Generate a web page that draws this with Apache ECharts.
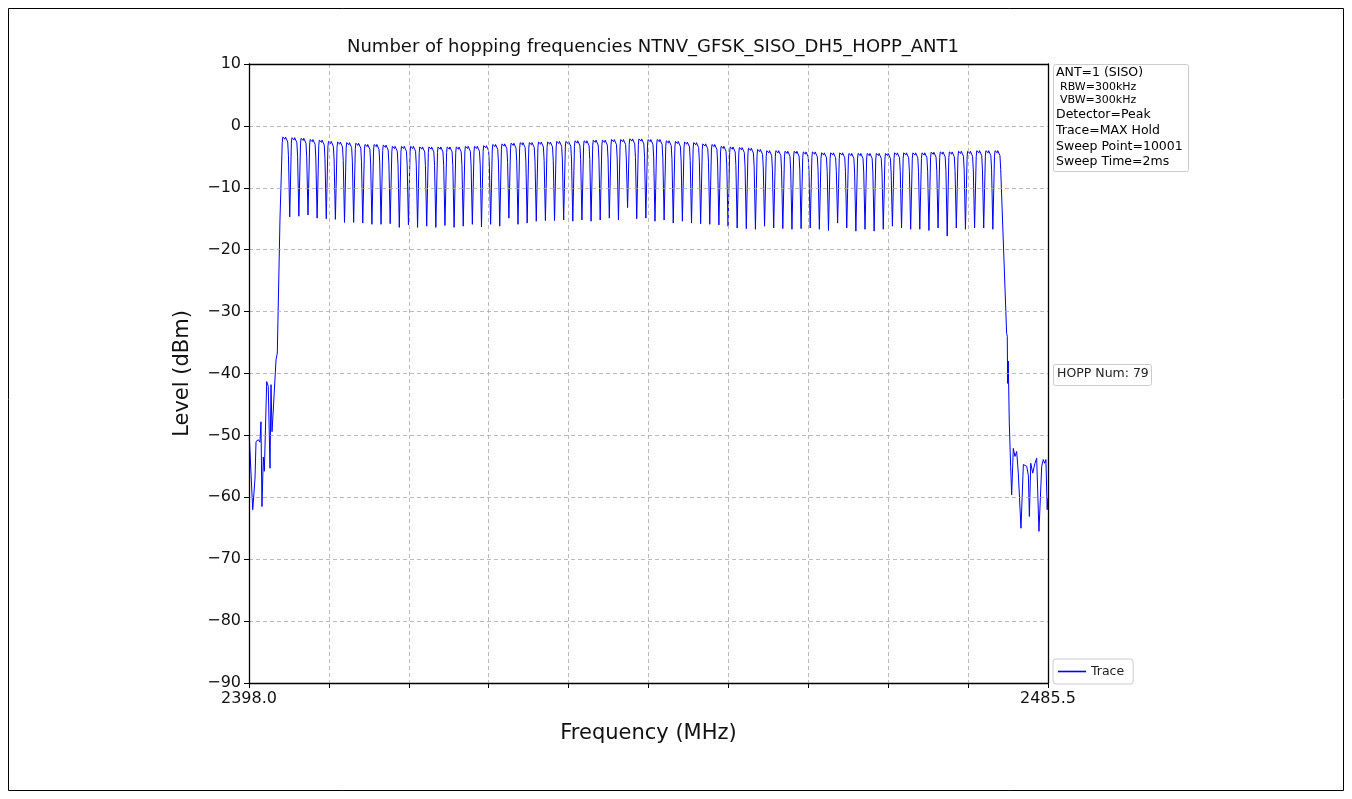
<!DOCTYPE html>
<html>
<head>
<meta charset="utf-8">
<script src="https://cdn.jsdelivr.net/npm/echarts@6/dist/echarts.min.js"></script>
<style>
html,body{margin:0;padding:0;background:#fff;}
#chart{width:1352px;height:799px;}
</style>
</head>
<body>
<div id="chart"></div>
<script>
// ---------------- DATA ----------------
const titleText = 'Number of hopping frequencies NTNV_GFSK_SISO_DH5_HOPP_ANT1';
const xAxisName = 'Frequency (MHz)';
const yAxisName = 'Level (dBm)';
const xMin = 2398.0, xMax = 2485.5, xStep = 8.75;
const yMin = -90, yMax = 10, yStep = 10;
const xEndLabels = ['2398.0', '2485.5'];

// Bluetooth hopping channels: 79 channels from 2402 MHz, 1 MHz spacing
const firstChannelMHz = 2402;
const channelSpacingMHz = 1;

// peak level of each channel (dBm)
const channelPeaks = [
  -1.8, -1.9, -2.0, -2.2, -2.3, -2.5, -2.6, -2.7, -2.8, -3.0,
  -3.0, -3.1, -3.3, -3.3, -3.3, -3.4, -3.4, -3.4, -3.4, -3.4,
  -3.3, -3.3, -3.2, -3.0, -2.9, -2.8, -2.7, -2.7, -2.6, -2.6,
  -2.5, -2.5, -2.4, -2.4, -2.3, -2.3, -2.2, -2.2, -2.1, -2.1,
  -2.2, -2.2, -2.4, -2.5, -2.6, -2.7, -2.9, -3.0, -3.3, -3.4,
  -3.5, -3.6, -3.8, -4.0, -4.0, -4.1, -4.1, -4.2, -4.2, -4.35,
  -4.35, -4.35, -4.45, -4.45, -4.45, -4.45, -4.45, -4.35, -4.35, -4.35,
  -4.35, -4.25, -4.2, -4.2, -4.1, -4.1, -4.0, -4.0, -4.0
];
// minimum between neighbouring channels (dBm)
const channelDips = [
  -14.7, -14.6, -14.4, -14.9, -15.0, -15.1, -15.6, -15.6, -15.7, -15.9,
  -15.9, -15.8, -16.4, -16.0, -16.4, -16.2, -16.4, -16.1, -16.4, -16.2,
  -15.9, -16.3, -15.9, -16.2, -14.9, -15.9, -15.7, -15.4, -15.3, -15.3,
  -15.2, -15.4, -15.2, -15.4, -15.2, -14.9, -15.2, -13.2, -15.0, -14.9,
  -15.4, -15.2, -15.7, -15.4, -15.7, -15.8, -15.9, -16.0, -16.2, -16.5,
  -16.6, -16.7, -16.2, -16.5, -16.6, -16.7, -16.6, -16.5, -16.7, -16.9,
  -15.7, -16.5, -17.0, -16.7, -17.0, -16.7, -16.2, -16.5, -16.7, -16.7,
  -16.9, -16.5, -17.8, -16.5, -16.7, -16.5, -16.5, -16.7
];
// shape of one channel top: [offset MHz from centre, dB below peak]
const channelShape = [
  [-0.36, -0.9], [-0.30, 0], [-0.12, 0], [-0.06, -0.35], [0.0, 0],
  [0.14, -0.1], [0.24, -0.8], [0.32, -3.0]
];
const dipOffsetMHz = 0.46;

// noise skirts outside the band [MHz, dBm]
const leftSkirt = [
  [2398.03, -50.2], [2398.41, -62.0], [2398.66, -56.9], [2398.77, -51.0],
  [2399.02, -50.7], [2399.20, -51.1], [2399.31, -47.8], [2399.42, -61.5],
  [2399.57, -53.5], [2399.68, -55.8], [2399.94, -41.3], [2400.11, -42.1],
  [2400.30, -55.3], [2400.41, -41.8], [2400.52, -49.4], [2400.66, -45.9],
  [2400.81, -46.1], [2400.96, -37.8], [2401.10, -36.7], [2401.39, -15.2]
];
const rightSkirt = [
  [2480.97, -33.5], [2481.04, -34.0], [2481.08, -41.6], [2481.15, -38.0],
  [2481.26, -48.0], [2481.41, -55.0], [2481.52, -59.6], [2481.70, -52.1],
  [2481.88, -53.4], [2482.07, -52.6], [2482.25, -56.1], [2482.54, -65.0],
  [2482.80, -54.7], [2482.98, -54.5], [2483.17, -55.0], [2483.35, -56.5],
  [2483.46, -63.1], [2483.61, -54.5], [2483.83, -56.1], [2484.07, -54.5],
  [2484.26, -53.7], [2484.51, -65.5], [2484.81, -55.0], [2484.98, -53.9],
  [2485.13, -54.5], [2485.27, -53.9], [2485.41, -62.0], [2485.5, -60.0]
];

const infoLines = ['ANT=1 (SISO)', 'RBW=300kHz', 'VBW=300kHz', 'Detector=Peak',
                   'Trace=MAX Hold', 'Sweep Point=10001', 'Sweep Time=2ms'];
const hoppText = 'HOPP Num: 79';
const seriesName = 'Trace';

// ---------------- BUILD TRACE ----------------
const trace = leftSkirt.slice();
channelPeaks.forEach(function (p, i) {
  const f = firstChannelMHz + i * channelSpacingMHz;
  channelShape.forEach(function (s) { trace.push([+(f + s[0]).toFixed(3), +(p + s[1]).toFixed(2)]); });
  if (i < channelDips.length) trace.push([+(f + dipOffsetMHz).toFixed(3), channelDips[i]]);
});
rightSkirt.forEach(function (d) { trace.push(d); });

// ---------------- CHART ----------------
const FONT = 'DejaVu Sans';
const chart = echarts.init(document.getElementById('chart'), null, {renderer: 'canvas'});
const minus = function (v) { return String(v).replace('-', '\u2212'); };

const grid = {left: 249, right: 304, top: 64, bottom: 116};

const infoRich = {
  m: {fontFamily: FONT, fontSize: 12.5, color: '#222', lineHeight: 15.6},
  s: {fontFamily: FONT, fontSize: 11, color: '#333', lineHeight: 13.5, padding: [0, 0, 0, 4]}
};
const infoText = infoLines.map(function (t, i) {
  return (i === 1 || i === 2) ? '{s|' + t + '}' : '{m|' + t + '}';
}).join('\n');

const frameAxisLine = {show: true, onZero: false, lineStyle: {color: '#000', width: 1.3}};
const gridLine = {show: true, lineStyle: {color: '#aaaaaa', width: 0.8, type: [4, 3]}};

chart.setOption({
  backgroundColor: '#fff',
  animation: false,
  title: {
    text: titleText, left: 648, top: 33, textAlign: 'center',
    textStyle: {fontFamily: FONT, fontSize: 18, fontWeight: 'normal', color: '#111'}
  },
  grid: Object.assign({show: true, borderWidth: 0, backgroundColor: '#fff'}, grid),
  legend: {
    data: [{name: seriesName, icon: 'rect'}],
    left: 1053, top: 659,
    itemWidth: 28, itemHeight: 1.6,
    padding: [6, 9, 6, 5],
    backgroundColor: 'rgba(255,255,255,0.9)',
    borderColor: '#cccccc', borderWidth: 1, borderRadius: 3,
    textStyle: {fontFamily: FONT, fontSize: 12.5, color: '#222'}
  },
  xAxis: [{
    type: 'value', min: xMin, max: xMax, interval: xStep, position: 'bottom',
    name: xAxisName, nameLocation: 'middle', nameGap: 40,
    nameTextStyle: {fontFamily: FONT, fontSize: 21, color: '#111'},
    axisLine: frameAxisLine,
    axisTick: {show: true, length: 5, lineStyle: {color: '#000', width: 1}},
    axisLabel: {
      margin: 8, fontFamily: FONT, fontSize: 16, color: '#111',
      showMinLabel: true, showMaxLabel: true,
      formatter: function (v) {
        if (Math.abs(v - xMin) < 1e-6) return xEndLabels[0];
        if (Math.abs(v - xMax) < 1e-6) return xEndLabels[1];
        return '';
      }
    },
    splitLine: gridLine, z: 5
  }, {
    type: 'value', min: xMin, max: xMax, interval: xStep, position: 'top',
    axisLine: frameAxisLine, axisTick: {show: false}, axisLabel: {show: false},
    splitLine: {show: false}, z: 5
  }],
  yAxis: [{
    type: 'value', min: yMin, max: yMax, interval: yStep, position: 'left',
    name: yAxisName, nameLocation: 'middle', nameGap: 56, nameRotate: 90,
    nameTextStyle: {fontFamily: FONT, fontSize: 21, color: '#111'},
    axisLine: frameAxisLine,
    axisTick: {show: true, length: 5, lineStyle: {color: '#000', width: 1}},
    axisLabel: {margin: 8, fontFamily: FONT, fontSize: 16, color: '#111', formatter: minus},
    splitLine: gridLine, z: 5
  }, {
    type: 'value', min: yMin, max: yMax, interval: yStep, position: 'right',
    axisLine: frameAxisLine, axisTick: {show: false}, axisLabel: {show: false},
    splitLine: {show: false}, z: 5
  }],
  series: [{
    name: seriesName, type: 'line', data: trace, xAxisIndex: 0, yAxisIndex: 0,
    showSymbol: false, symbol: 'none', smooth: false,
    lineStyle: {color: '#0000ff', width: 1},
    itemStyle: {color: '#0000ff'}, z: 3
  }],
  graphic: [
    {type: 'rect', shape: {x: 1053.5, y: 64.5, width: 135, height: 107, r: 2},
     style: {fill: 'rgba(255,255,255,0.9)', stroke: '#cccccc', lineWidth: 1}, z: 10},
    {type: 'text', left: 1056, top: 66, z: 11,
     style: {text: infoText, rich: infoRich, fontFamily: FONT}},
    {type: 'rect', shape: {x: 1053.5, y: 364.5, width: 98, height: 21, r: 2},
     style: {fill: 'rgba(255,255,255,0.9)', stroke: '#cccccc', lineWidth: 1}, z: 10},
    {type: 'text', left: 1057, top: 367, z: 11,
     style: {text: hoppText, fontFamily: FONT, fontSize: 12.5, fill: '#222'}},
    {type: 'rect', shape: {x: 8.5, y: 8.5, width: 1335, height: 782},
     style: {fill: 'none', stroke: '#000', lineWidth: 1}, z: 0, silent: true}
  ]
});
</script>
</body>
</html>
